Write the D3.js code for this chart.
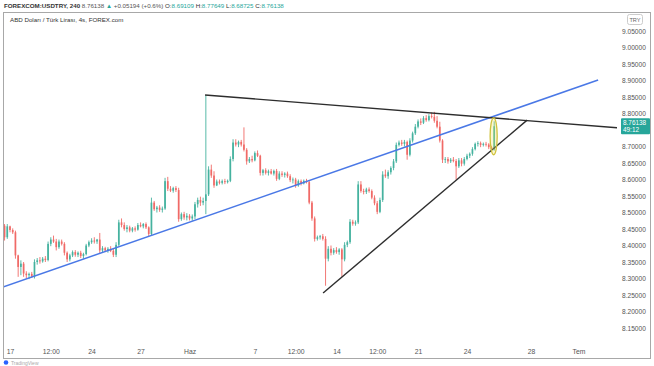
<!DOCTYPE html>
<html><head><meta charset="utf-8">
<script src="https://cdn.jsdelivr.net/npm/d3@7"></script>
<style>body{margin:0;background:#fff;} svg{display:block;font-family:"Liberation Sans",Arial,sans-serif;}</style>
</head><body><svg id="c" width="654" height="366"></svg>
<script>
// ---- data (4h bars, bar 0 = 17 May 00:00) ----
const firstBar = -2;
const open = [
8.460,8.425,8.458,8.447,8.440,8.370,8.335,8.345,8.315,8.310,
8.314,8.306,8.350,8.355,8.352,8.360,8.356,8.405,8.418,8.412,
8.395,8.412,8.405,8.378,8.358,8.370,8.380,8.372,8.378,8.368,
8.374,8.400,8.410,8.415,8.412,8.418,8.385,8.392,8.385,8.390,
8.384,8.372,8.402,8.470,8.462,8.450,8.455,8.445,8.452,8.448,
8.462,8.458,8.465,8.455,8.435,8.530,8.510,8.515,8.508,8.512,
8.595,8.572,8.566,8.574,8.568,8.480,8.495,8.485,8.490,8.482,
8.488,8.525,8.538,8.530,8.535,8.555,8.630,8.612,8.582,8.594,
8.590,8.595,8.592,8.596,8.662,8.712,8.706,8.714,8.706,8.690,
8.655,8.662,8.658,8.680,8.672,8.620,8.628,8.620,8.625,8.618,
8.626,8.602,8.618,8.614,8.618,8.610,8.598,8.600,8.582,8.595,
8.588,8.596,8.592,8.530,8.482,8.420,8.425,8.428,8.420,8.360,
8.390,8.378,8.386,8.380,8.388,8.358,8.402,8.410,8.472,8.466,
8.470,8.585,8.565,8.562,8.570,8.565,8.545,8.528,8.502,8.538,
8.615,8.610,8.622,8.635,8.655,8.705,8.712,8.708,8.714,8.675,
8.718,8.740,8.760,8.776,8.772,8.786,8.780,8.792,8.790,8.778,
8.760,8.718,8.660,8.662,8.655,8.660,8.656,8.640,8.658,8.648,
8.662,8.672,8.678,8.692,8.708,8.710,8.705,8.708,8.706,8.698,
8.69109];
const high = [
8.465,8.465,8.460,8.452,8.445,8.372,8.355,8.350,8.322,8.318,
8.320,8.358,8.362,8.365,8.365,8.368,8.412,8.425,8.430,8.420,
8.418,8.418,8.410,8.382,8.375,8.385,8.386,8.382,8.384,8.378,
8.405,8.415,8.422,8.425,8.420,8.438,8.398,8.396,8.395,8.398,
8.390,8.410,8.478,8.482,8.470,8.462,8.460,8.456,8.458,8.468,
8.470,8.468,8.470,8.458,8.545,8.535,8.520,8.522,8.518,8.605,
8.608,8.580,8.578,8.580,8.575,8.500,8.502,8.498,8.495,8.494,
8.532,8.545,8.548,8.545,8.856,8.640,8.645,8.625,8.600,8.600,
8.600,8.602,8.600,8.670,8.722,8.722,8.718,8.720,8.758,8.695,
8.668,8.672,8.685,8.688,8.675,8.632,8.634,8.630,8.632,8.630,
8.632,8.625,8.625,8.622,8.624,8.616,8.606,8.605,8.600,8.600,
8.600,8.602,8.598,8.535,8.488,8.430,8.432,8.435,8.428,8.398,
8.400,8.392,8.395,8.392,8.392,8.410,8.415,8.480,8.478,8.476,
8.595,8.595,8.572,8.575,8.576,8.570,8.552,8.535,8.545,8.625,
8.630,8.628,8.640,8.662,8.712,8.718,8.720,8.720,8.718,8.725,
8.745,8.768,8.782,8.785,8.792,8.795,8.798,8.803,8.805,8.792,
8.775,8.722,8.668,8.668,8.665,8.668,8.662,8.665,8.665,8.668,
8.678,8.682,8.698,8.712,8.716,8.715,8.712,8.714,8.710,8.702,
8.77649];
const low = [
8.415,8.420,8.440,8.435,8.360,8.305,8.310,8.305,8.300,8.298,
8.302,8.300,8.342,8.345,8.348,8.350,8.352,8.398,8.408,8.385,
8.390,8.400,8.370,8.350,8.352,8.365,8.366,8.365,8.362,8.360,
8.370,8.395,8.405,8.406,8.405,8.375,8.380,8.380,8.378,8.380,
8.365,8.365,8.398,8.455,8.445,8.440,8.440,8.440,8.442,8.445,
8.455,8.452,8.450,8.428,8.430,8.505,8.500,8.502,8.500,8.508,
8.565,8.562,8.560,8.562,8.472,8.475,8.478,8.476,8.476,8.475,
8.480,8.515,8.520,8.522,8.495,8.550,8.605,8.575,8.580,8.585,
8.585,8.586,8.588,8.592,8.655,8.700,8.698,8.700,8.685,8.645,
8.650,8.652,8.655,8.668,8.612,8.612,8.615,8.612,8.615,8.612,
8.596,8.598,8.608,8.606,8.605,8.592,8.588,8.575,8.578,8.582,
8.585,8.588,8.525,8.475,8.412,8.415,8.418,8.415,8.278,8.352,
8.370,8.372,8.375,8.372,8.305,8.352,8.395,8.405,8.460,8.460,
8.465,8.560,8.555,8.556,8.560,8.540,8.522,8.495,8.498,8.532,
8.605,8.602,8.615,8.628,8.650,8.700,8.702,8.700,8.660,8.670,
8.712,8.735,8.755,8.765,8.768,8.775,8.776,8.785,8.772,8.755,
8.712,8.650,8.650,8.648,8.650,8.652,8.600,8.635,8.640,8.642,
8.658,8.665,8.672,8.688,8.700,8.698,8.700,8.700,8.692,8.686,
8.68725];
const close = [
8.425,8.458,8.447,8.440,8.370,8.335,8.345,8.315,8.310,8.314,
8.306,8.350,8.355,8.352,8.360,8.356,8.405,8.418,8.412,8.395,
8.412,8.405,8.378,8.358,8.370,8.380,8.372,8.378,8.368,8.374,
8.400,8.410,8.415,8.412,8.418,8.385,8.392,8.385,8.390,8.384,
8.372,8.402,8.470,8.462,8.450,8.455,8.445,8.452,8.448,8.462,
8.458,8.465,8.455,8.435,8.530,8.510,8.515,8.508,8.512,8.595,
8.572,8.566,8.574,8.568,8.480,8.495,8.485,8.490,8.482,8.488,
8.525,8.538,8.530,8.535,8.555,8.630,8.612,8.582,8.594,8.590,
8.595,8.592,8.596,8.662,8.712,8.706,8.714,8.706,8.690,8.655,
8.662,8.658,8.680,8.672,8.620,8.628,8.620,8.625,8.618,8.626,
8.602,8.618,8.614,8.618,8.610,8.598,8.600,8.582,8.595,8.588,
8.596,8.592,8.530,8.482,8.420,8.425,8.428,8.420,8.360,8.390,
8.378,8.386,8.380,8.388,8.358,8.402,8.410,8.472,8.466,8.470,
8.585,8.565,8.562,8.570,8.565,8.545,8.528,8.502,8.538,8.615,
8.610,8.622,8.635,8.655,8.705,8.712,8.708,8.714,8.675,8.718,
8.740,8.760,8.776,8.772,8.786,8.780,8.792,8.790,8.778,8.760,
8.718,8.660,8.662,8.655,8.660,8.656,8.640,8.658,8.648,8.662,
8.672,8.678,8.692,8.708,8.710,8.705,8.708,8.706,8.698,8.691,
8.76138];

const priceTicks = [9.05,9.00,8.95,8.90,8.85,8.80,8.70,8.65,8.60,8.55,8.50,8.45,8.40,8.35,8.30,8.25,8.20,8.15];
const timeTickBars = [0,15,30,48,66,90,105,120,135,150,168,191.5,209];
const timeTickLabels = ["17","12:00","24","27","Haz","7","12:00","14","12:00","21","24","28","Tem"];
const lastPrice = 8.76138;
const countdown = "49:12";
// drawings in (bar, price) space
const blueTrend = [[-2.6, 8.274],[216.2, 8.9015]];
const upperTrend = [[71.7, 8.856],[224.3, 8.756]];
const lowerTrend = [[115.1, 8.256],[190.1, 8.780]];
const highlightCenter = [177.8, 8.731];
const highlightRadius = [1.3, 0.056]; // bars, price

// ---- drawing ----
const svg = d3.select("#c");
const plot = {l:3, r:617, t:13, b:345};
const x = d3.scaleLinear().domain([0,168]).range([10,467]);
const y = d3.scaleLinear().domain([8.15,9.05]).range([328,31]);

const bars = open.map((o,k)=>({i:firstBar+k,o,h:high[k],l:low[k],c:close[k]}));

svg.append("defs").append("clipPath").attr("id","pc").append("rect")
  .attr("x",plot.l).attr("y",plot.t).attr("width",plot.r-plot.l).attr("height",plot.b-plot.t);

const up = "#45b29f", dn = "#f06a67";
const g = svg.append("g").attr("clip-path","url(#pc)");
const bw = 1.7;
g.selectAll("line.w").data(bars).join("line").attr("class","w")
  .attr("x1",d=>x(d.i)).attr("x2",d=>x(d.i))
  .attr("y1",d=>y(d.h)).attr("y2",d=>y(d.l))
  .attr("stroke",d=>d.c>=d.o?up:dn).attr("stroke-width",0.9);
g.selectAll("rect.b").data(bars).join("rect").attr("class","b")
  .attr("x",d=>x(d.i)-bw/2).attr("width",bw)
  .attr("y",d=>y(Math.max(d.o,d.c)))
  .attr("height",d=>Math.max(0.8,Math.abs(y(d.o)-y(d.c))))
  .attr("fill",d=>d.c>=d.o?up:dn);

const line = d3.line().x(d=>x(d[0])).y(d=>y(d[1]));
g.append("path").attr("d",line(blueTrend)).attr("stroke","#4a78e6").attr("stroke-width",1.5).attr("fill","none");
g.append("path").attr("d",line(upperTrend)).attr("stroke","#2d2d2d").attr("stroke-width",1.4).attr("fill","none");
g.append("path").attr("d",line(lowerTrend)).attr("stroke","#2d2d2d").attr("stroke-width",1.4).attr("fill","none");

g.append("ellipse")
  .attr("cx",x(highlightCenter[0])).attr("cy",y(highlightCenter[1]))
  .attr("rx",x(highlightRadius[0])-x(0)).attr("ry",y(8.15)-y(8.15+highlightRadius[1]))
  .attr("fill","rgba(240,225,90,0.28)").attr("stroke","#cfc23c").attr("stroke-width",1.3);

// price axis
const ya = svg.append("g").attr("transform",`translate(621,0)`)
  .call(d3.axisRight(y).tickValues(priceTicks).tickFormat(d3.format(".5f")).tickSize(0).tickPadding(1));
ya.select(".domain").remove();
ya.selectAll("text").attr("font-size",6.6).attr("fill","#555").attr("font-family","Liberation Sans, Arial, sans-serif");

// time axis
const xa = svg.append("g").attr("transform",`translate(0,${plot.b+3})`)
  .call(d3.axisBottom(x).tickValues(timeTickBars).tickFormat((d,i)=>timeTickLabels[i]).tickSize(0).tickPadding(1));
xa.select(".domain").remove();
xa.selectAll("text").attr("font-size",6.8).attr("fill","#555").attr("font-family","Liberation Sans, Arial, sans-serif");

// last price label
const ly = y(lastPrice);
svg.append("rect").attr("x",621).attr("y",ly-8).attr("width",29).attr("height",16).attr("rx",1).attr("fill","#26a69a");
svg.append("text").attr("x",623).attr("y",ly-1.5).attr("font-size",6.4).attr("fill","#fff").text(d3.format(".5f")(lastPrice));
svg.append("text").attr("x",623).attr("y",ly+6).attr("font-size",6.4).attr("fill","#fff").text(countdown);

// TRY box
svg.append("rect").attr("x",627.5).attr("y",14.5).attr("width",15).attr("height",10).attr("rx",2).attr("fill","#fff").attr("stroke","#ccc");
svg.append("text").attr("x",635).attr("y",22).attr("text-anchor","middle").attr("font-size",5.6).attr("fill","#666").text("TRY");

// frame
svg.append("rect").attr("x",3.5).attr("y",12.5).attr("width",647).attr("height",346).attr("fill","none").attr("stroke","#a8a8a8");

// header
const hdr = svg.append("text").attr("x",4).attr("y",8).attr("font-size",6.2).attr("fill","#333");
hdr.append("tspan").attr("font-weight","bold").text("FOREXCOM:USDTRY, 240 ");
hdr.append("tspan").attr("fill","#555").text("8.76138 ");
hdr.append("tspan").attr("fill","#26a69a").text("▲ ");
hdr.append("tspan").attr("fill","#555").text("+0.05194 (+0.6%) ");
[["O:","8.69109"],["H:","8.77649"],["L:","8.68725"],["C:","8.76138"]].forEach(([k,v])=>{
  hdr.append("tspan").attr("fill","#333").text(k);
  hdr.append("tspan").attr("fill","#26a69a").text(v+" ");
});
svg.append("text").attr("x",10).attr("y",22).attr("font-size",6.2).attr("fill","#333").text("ABD Doları / Türk Lirası, 4s, FOREX.com");

// footer
svg.append("circle").attr("cx",6).attr("cy",362.5).attr("r",2.3).attr("fill","#2962ff");
svg.append("text").attr("x",11).attr("y",364.5).attr("font-size",5).attr("fill","#aaa").text("TradingView");
</script></body></html>
